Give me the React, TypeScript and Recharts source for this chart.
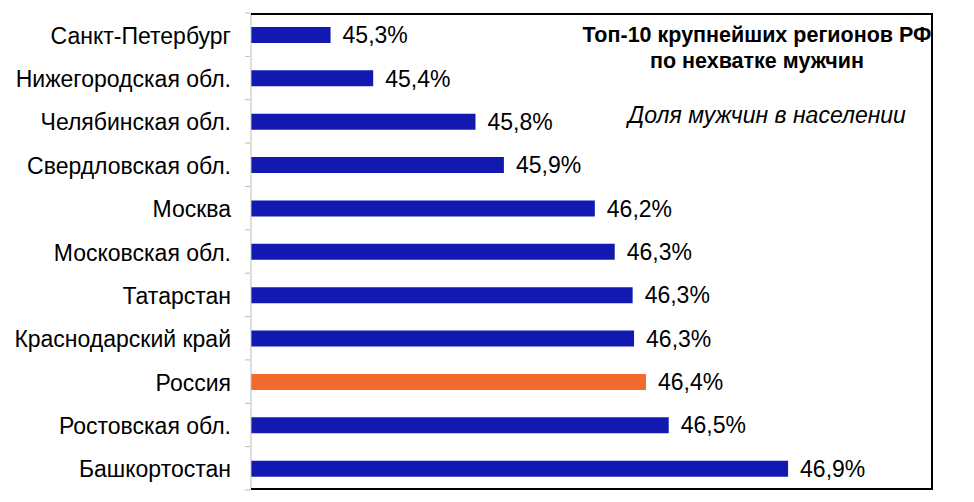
import { BarChart, Bar, XAxis, YAxis, Cell, LabelList } from "recharts";

const regions = [
  "Санкт-Петербург",
  "Нижегородская обл.",
  "Челябинская обл.",
  "Свердловская обл.",
  "Москва",
  "Московская обл.",
  "Татарстан",
  "Краснодарский край",
  "Россия",
  "Ростовская обл.",
  "Башкортостан",
];
const maleShare = [45.28, 45.43, 45.79, 45.89, 46.21, 46.28, 46.343, 46.348, 46.39, 46.47, 46.89];
const highlight = "Россия";

const BLUE = "#1219b0";
const ORANGE = "#f26a2e";
const FONT = "'Liberation Sans', Arial, sans-serif";

const W = 974;
const H = 502;
const PLOT = { left: 251, top: 13, right: 933, bottom: 490 };

const data = regions.map((name, i) => ({ name, value: maleShare[i] }));

// label text + small tick marks between categories (Excel style)
const RegionTick = (props: any) => {
  const { y, payload, index } = props;
  const half = (PLOT.bottom - PLOT.top) / regions.length / 2;
  const ax = PLOT.left - 1;
  return (
    <g>
      <text
        x={231}
        y={y + 1}
        textAnchor="end"
        dominantBaseline="central"
        fontSize={23}
        fontFamily={FONT}
        fill="#000"
      >
        {payload.value}
      </text>
      <line x1={ax - 5} x2={ax} y1={y - half} y2={y - half} stroke="#bbb" />
      {index === regions.length - 1 && (
        <line x1={ax - 5} x2={ax} y1={y + half} y2={y + half} stroke="#bbb" />
      )}
    </g>
  );
};

export default function App() {
  return (
    <div style={{ position: "absolute", left: 0, top: 0, width: W, height: H, background: "#fff" }}>
      <BarChart
        width={W}
        height={H}
        data={data}
        layout="vertical"
        margin={{ top: PLOT.top, right: W - PLOT.right, bottom: H - PLOT.bottom, left: 0 }}
      >
        <XAxis type="number" domain={[45, 47.4]} hide allowDataOverflow />
        <YAxis
          type="category"
          dataKey="name"
          width={PLOT.left}
          axisLine={{ stroke: "#bbb" }}
          tickLine={false}
          tick={<RegionTick />}
          interval={0}
        />
        <Bar dataKey="value" barSize={16} isAnimationActive={false}>
          {data.map((d) => (
            <Cell key={d.name} fill={d.name === highlight ? ORANGE : BLUE} />
          ))}
          <LabelList
            dataKey="value"
            position="right"
            offset={12}
            fill="#000"
            fontSize={23}
            fontFamily={FONT}
            formatter={(v: any) => `${Number(v).toFixed(1).replace(".", ",")}%`}
          />
        </Bar>
      </BarChart>

      {/* plot area frame */}
      <div
        style={{
          position: "absolute",
          left: PLOT.left,
          top: PLOT.top,
          width: PLOT.right - PLOT.left,
          height: PLOT.bottom - PLOT.top,
          borderTop: "2px solid #000",
          borderRight: "2px solid #000",
          borderBottom: "2px solid #000",
          boxSizing: "border-box",
          pointerEvents: "none",
        }}
      />

      <div
        style={{
          position: "absolute",
          left: 557,
          width: 400,
          top: 22,
          textAlign: "center",
          fontFamily: FONT,
          fontWeight: "bold",
          fontSize: 21.5,
          lineHeight: "26px",
          color: "#000",
        }}
      >
        Топ-10 крупнейших регионов РФ
        <br />
        по нехватке мужчин
      </div>
      <div
        style={{
          position: "absolute",
          left: 567,
          width: 400,
          top: 102,
          textAlign: "center",
          fontFamily: FONT,
          fontStyle: "italic",
          fontSize: 23,
          color: "#000",
        }}
      >
        Доля мужчин в населении
      </div>
    </div>
  );
}
